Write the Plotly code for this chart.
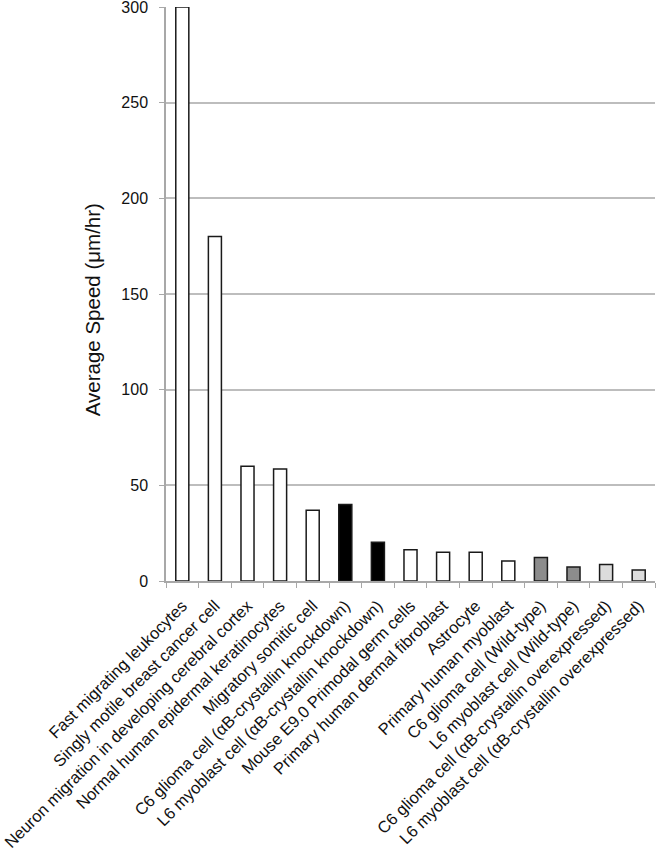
import plotly.graph_objects as go

cells = [
    "Fast migrating leukocytes",
    "Singly motile breast cancer cell",
    "Neuron migration in developing cerebral cortex",
    "Normal human epidermal keratinocytes",
    "Migratory somitic cell",
    "C6 glioma cell (αB-crystallin knockdown)",
    "L6 myoblast cell (αB-crystallin knockdown)",
    "Mouse E9.0 Primodal germ cells",
    "Primary human dermal fibroblast",
    "Astrocyte",
    "Primary human myoblast",
    "C6 glioma cell (Wild-type)",
    "L6 myoblast cell (Wild-type)",
    "C6 glioma cell (αB-crystallin overexpressed)",
    "L6 myoblast cell (αB-crystallin overexpressed)",
]
speed = [300, 180, 60, 58.5, 37, 40, 20.3, 16.3, 15, 15, 10.5, 12.3, 7.3, 8.6, 5.8]
fills = ["white"] * 5 + ["black"] * 2 + ["white"] * 4 + ["#8c8c8c"] * 2 + ["#dcdcdc"] * 2

fig = go.Figure()
fig.add_trace(go.Bar(
    x=cells, y=speed,
    marker=dict(color=fills, line=dict(color="#1a1a1a", width=1.5)),
    width=0.4,
    cliponaxis=False,
))

fig.update_layout(
    width=657, height=854,
    margin=dict(l=166, r=2, t=7, b=273),
    paper_bgcolor="white", plot_bgcolor="white",
    font=dict(family="Liberation Sans, Arial", color="#111"),
    showlegend=False,
)
fig.update_xaxes(
    tickangle=-45, tickfont=dict(size=16.5),
    showline=True, linecolor="#a8a8a8", linewidth=1.5,
    ticks="outside", tickson="boundaries", ticklen=5, tickcolor="#a8a8a8",
    ticklabelstandoff=7,
    showgrid=False, automargin=False,
)
fig.update_yaxes(
    range=[0, 300], tickvals=[0, 50, 100, 150, 200, 250, 300], tickfont=dict(size=16),
    showline=True, linecolor="#a8a8a8", linewidth=1.5,
    ticks="outside", ticklen=5, tickcolor="#a8a8a8", ticklabelstandoff=8,
    ticklabeloverflow="allow",
    gridcolor="#bdbdbd", gridwidth=1.5, zeroline=False, automargin=False,
)

# y-axis title placed as an annotation so it sits where the reference has it
fig.add_annotation(
    text="Average Speed (μm/hr)", textangle=-90, showarrow=False,
    xref="paper", yref="paper", x=-0.151, y=0.472,
    xanchor="center", yanchor="middle",
    font=dict(size=20.5, color="#111"),
)

# drop the browser's default 8px body margin so the figure fills the window
fig.write_html("out.html", config={"displayModeBar": False},
               post_script="document.body.style.margin='0';")
